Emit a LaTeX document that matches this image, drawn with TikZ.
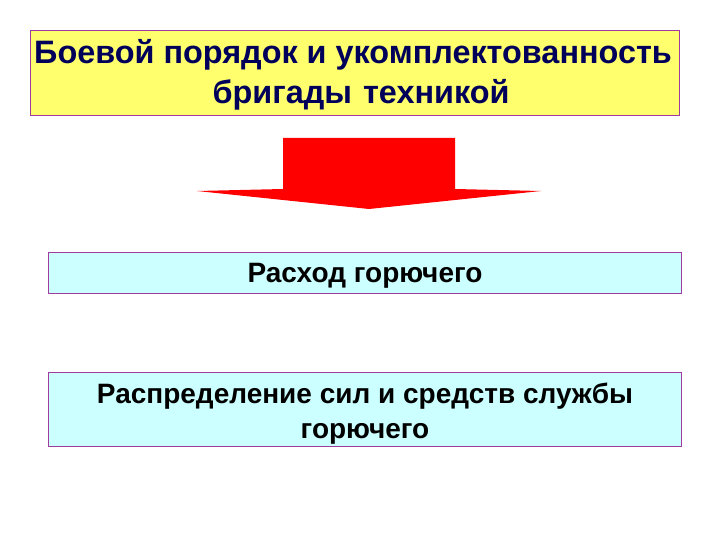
\documentclass[tikz,border=0pt]{standalone}
\usepackage{fontspec}
\setmainfont{Liberation Sans}
\begin{document}
\begin{tikzpicture}[x=1pt,y=-1pt,
  boxA/.style={draw=borderc,line width=0.8pt,fill=yellowc},
  boxB/.style={draw=borderc,line width=0.8pt,fill=cyanc},
  txtA/.style={font=\fontsize{32.4}{40}\selectfont\bfseries,text=navyc,align=center,inner sep=0pt},
  txtB/.style={font=\fontsize{28}{35}\selectfont\bfseries,text=black,align=center,inner sep=0pt}]
\definecolor{borderc}{RGB}{160,60,160}
\definecolor{yellowc}{RGB}{255,255,110}
\definecolor{cyanc}{RGB}{204,255,255}
\definecolor{navyc}{RGB}{0,0,90}
\definecolor{redc}{RGB}{255,0,0}
\useasboundingbox (0,0) rectangle (720,540);
\fill[white] (0,0) rectangle (720,540);
\draw[boxA] (30,30) rectangle (679,115);
\node[txtA] (t1) at (353,75) {Боевой порядок и укомплектованность\\\hspace*{16pt}бригады\hspace{2pt} техникой};
\fill[redc] (283,138) -- (455,138) -- (455,189) -- (541,191) -- (369,209) -- (197,191) -- (283,189) -- cycle;
\draw[boxB] (48,252) rectangle (681,293);
\node[txtB] (t2) at (365,276) {Расход горючего};
\draw[boxB] (48,372) rectangle (681,446);
\node[txtB] (t3) at (365,414) {Распределение сил и средств службы\\горючего};
\end{tikzpicture}
\end{document}
